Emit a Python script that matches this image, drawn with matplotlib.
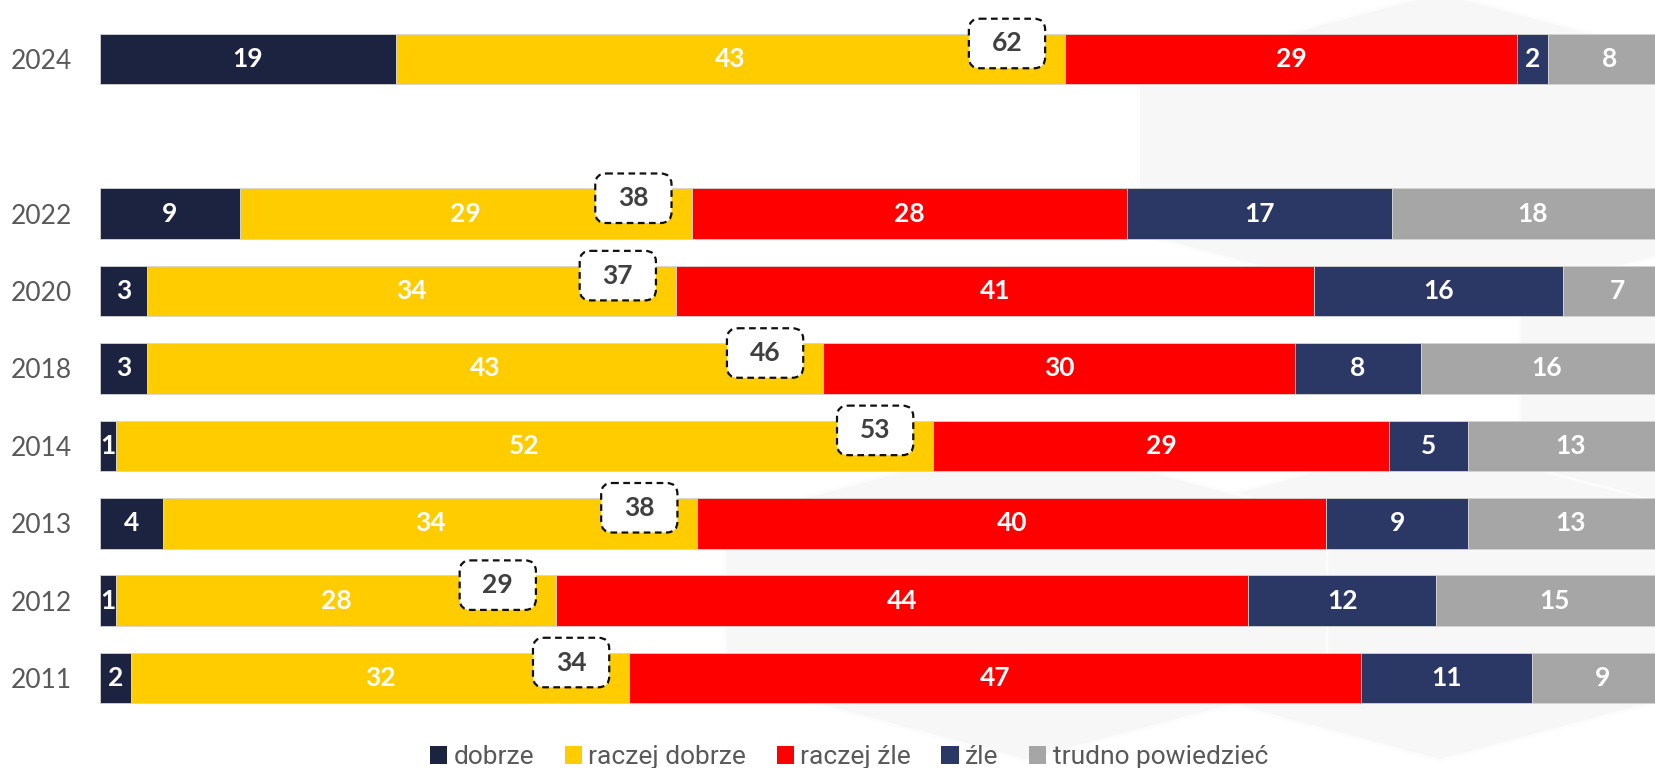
import matplotlib
matplotlib.use('Agg')
import matplotlib.pyplot as plt
from matplotlib.patches import Patch, FancyBboxPatch, RegularPolygon

# dane z wykresu (w procentach)
lata = ['2024', '2022', '2020', '2018', '2014', '2013', '2012', '2011']
dobrze = [19, 9, 3, 3, 1, 4, 1, 2]
raczej_dobrze = [43, 29, 34, 43, 52, 34, 28, 32]
raczej_zle = [29, 28, 41, 30, 29, 40, 44, 47]
zle = [2, 17, 16, 8, 5, 9, 12, 11]
trudno = [8, 18, 7, 16, 13, 13, 15, 9]

kategorie = ['dobrze', 'raczej dobrze', 'raczej źle', 'źle', 'trudno powiedzieć']
kolory = ['#1c2340', '#ffcc00', '#ff0000', '#2b3764', '#a6a6a6']
serie = [dobrze, raczej_dobrze, raczej_zle, zle, trudno]

# wykres 100% - każdy wiersz przeskalowany do sumy 100
sumy = [sum(w) for w in zip(*serie)]

# pozycje wierszy - 2023 zostaje puste
pozycje = [0] + list(range(2, len(lata) + 1))

fig = plt.figure(figsize=(16.55, 7.68), dpi=100)
fig.patch.set_facecolor('white')

# delikatne tło w kształcie heksagonów po prawej
for cx, cy in [(0.87, 0.80), (0.87, 0.22), (0.62, 0.22), (1.1, 0.5)]:
    fig.add_artist(RegularPolygon((cx, cy), 6, radius=0.21, orientation=0,
                                  transform=fig.transFigure, fc='#f7f7f7',
                                  ec='#fcfcfc', lw=2, zorder=0))

ax = fig.add_axes([100 / 1655, 0, 1555 / 1655, 1])
ax.patch.set_alpha(0)

lewo = [0] * len(lata)
for wartosci, kolor in zip(serie, kolory):
    szer = [w / s * 100 for w, s in zip(wartosci, sumy)]
    ax.barh(pozycje, szer, left=lewo, height=0.655, color=kolor,
            edgecolor='#d4d4d4', linewidth=0.6, zorder=2)
    for y, l, w, v in zip(pozycje, lewo, szer, wartosci):
        ax.text(l + w / 2, y, str(v), ha='center', va='center', color='white',
                fontsize=19, fontweight='bold', family='Lato', zorder=3)
    lewo = [a + b for a, b in zip(lewo, szer)]

# ramki z sumą dobrze + raczej dobrze
sz, wy = 4.85, 0.64
for y, d, rd, s in zip(pozycje, dobrze, raczej_dobrze, sumy):
    suma = d + rd
    cx = suma / s * 100 - 3.7
    cy = y - 0.2
    box = FancyBboxPatch((cx - sz / 2, cy - wy / 2), sz, wy,
                         boxstyle='round,pad=0,rounding_size=0.7',
                         mutation_aspect=0.2, fc='white', ec='#111111',
                         lw=1.6, ls=(0, (3, 2)), zorder=4)
    ax.add_patch(box)
    ax.text(cx, cy, str(suma), ha='center', va='center', color='#404040',
            fontsize=19, fontweight='bold', family='Lato', zorder=5)

ax.set_xlim(0, 98.9)
ax.set_ylim(9.163, -0.762)
ax.set_yticks(pozycje, lata)
ax.tick_params(axis='y', length=0, pad=20, labelsize=19, labelcolor='#595959')
for t in ax.get_yticklabels():
    t.set_family('Lato')
ax.set_xticks([])
for s in ax.spines.values():
    s.set_visible(False)

uchwyty = [Patch(facecolor=k, label=n) for k, n in zip(kolory, kategorie)]
fig.legend(handles=uchwyty, loc='center', bbox_to_anchor=(849 / 1655, 1 - 757 / 768),
           ncol=5, frameon=False, handlelength=0.65, handleheight=0.65,
           handletextpad=0.25, columnspacing=1.15,
           prop={'family': ['Liberation Sans Narrow', 'Roboto', 'DejaVu Sans'], 'size': 19},
           labelcolor='#595959')

fig.savefig('out.png', dpi=100)
